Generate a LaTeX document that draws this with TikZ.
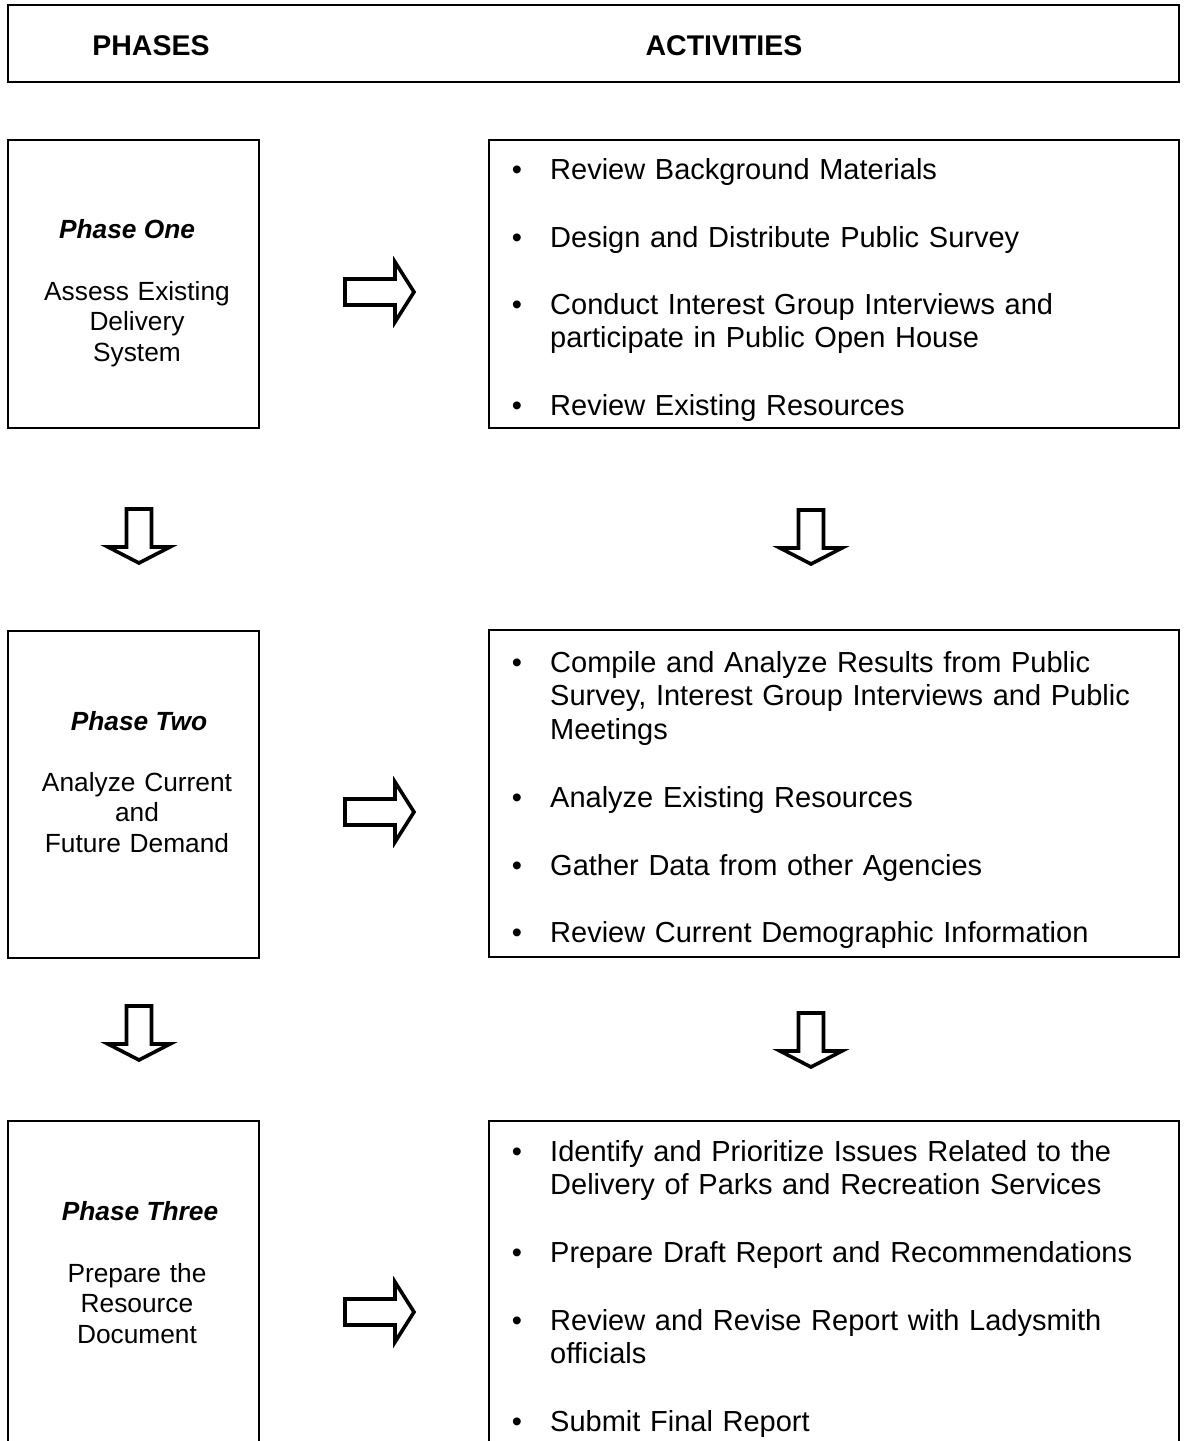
\documentclass[tikz,border=0pt]{standalone}
\usepackage{fontspec}
\setmainfont{Liberation Sans}
\begin{document}
\begin{tikzpicture}[x=1pt,y=-1pt,
  box/.style={draw=black, line width=2.6pt, rectangle, inner sep=0pt, outer sep=0pt},
  arrowline/.style={draw=black, fill=white, line width=3.6pt, line join=miter},
  rtext/.style={font=\fontsize{29}{33.5}\selectfont, inner sep=0pt, anchor=base west, text width=620pt, align=left},
  ltext/.style={font=\fontsize{26.3}{30.5}\selectfont, inner sep=0pt, anchor=base, text width=245pt, align=center},
  ptitle/.style={font=\fontsize{26.3}{30.5}\selectfont\bfseries\itshape, inner sep=0pt, anchor=base},
  htext/.style={font=\fontsize{28.5}{32}\selectfont\bfseries, inner sep=0pt, anchor=base},
  bul/.style={font=\fontsize{29}{33.5}\selectfont, inner sep=0pt, anchor=base},
  rarr/.pic={\draw[arrowline] (-35,-13) -- (15,-13) -- (15,-30) -- (34,0) -- (15,30) -- (15,13) -- (-35,13) -- cycle;},
  darr/.pic={\draw[arrowline] (-12.5,-27) -- (12.5,-27) -- (12.5,11) -- (31,11) -- (0,27) -- (-31,11) -- (-12.5,11) -- cycle;}
]
\useasboundingbox (0,0) rectangle (1185,1441);
\clip (0,0) rectangle (1185,1441);
\fill[white] (0,0) rectangle (1185,1441);

% header
\node[box, minimum width=1171pt, minimum height=77pt, anchor=north west] (hdr) at (8,5) {};
\node[htext] (hph) at (151,55) {PHASES};
\node[htext] (hac) at (724,55) {ACTIVITIES};

% boxes
\node[box, minimum width=251pt, minimum height=288pt, anchor=north west] (p1) at (8,140) {};
\node[box, minimum width=690pt, minimum height=288pt, anchor=north west] (a1) at (489,140) {};
\node[box, minimum width=251pt, minimum height=327pt, anchor=north west] (p2) at (8,631) {};
\node[box, minimum width=690pt, minimum height=327pt, anchor=north west] (a2) at (489,630) {};
\node[box, minimum width=251pt, minimum height=400pt, anchor=north west] (p3) at (8,1121) {};
\node[box, minimum width=690pt, minimum height=400pt, anchor=north west] (a3) at (489,1121) {};

% phase texts
\node[ptitle] (t1) at (127,238) {Phase One};
\node[ltext] (d1) at (137,300) {Assess Existing\\Delivery\\System};
\node[ptitle] (t2) at (139,730) {Phase Two};
\node[ltext] (d2) at (137,791) {Analyze Current\\and\\Future Demand};
\node[ptitle] (t3) at (140,1220) {Phase Three};
\node[ltext] (d3) at (137,1282) {Prepare the\\Resource\\Document};

% activities 1
\node[bul] (b11) at (517,179) {•};
\node[rtext] (i11) at (550,179) {Review Background Materials};
\node[bul] (b12) at (517,247) {•};
\node[rtext] (i12) at (550,247) {Design and Distribute Public Survey};
\node[bul] (b13) at (517,314) {•};
\node[rtext] (i13) at (550,314) {Conduct Interest Group Interviews and\\participate in Public Open House};
\node[bul] (b14) at (517,415) {•};
\node[rtext] (i14) at (550,415) {Review Existing Resources};

% activities 2
\node[bul] (b21) at (517,672) {•};
\node[rtext] (i21) at (550,672) {Compile and Analyze Results from Public\\Survey, Interest Group Interviews and Public\\Meetings};
\node[bul] (b22) at (517,807) {•};
\node[rtext] (i22) at (550,807) {Analyze Existing Resources};
\node[bul] (b23) at (517,875) {•};
\node[rtext] (i23) at (550,875) {Gather Data from other Agencies};
\node[bul] (b24) at (517,942) {•};
\node[rtext] (i24) at (550,942) {Review Current Demographic Information};

% activities 3
\node[bul] (b31) at (517,1161) {•};
\node[rtext] (i31) at (550,1161) {Identify and Prioritize Issues Related to the\\Delivery of Parks and Recreation Services};
\node[bul] (b32) at (517,1262) {•};
\node[rtext] (i32) at (550,1262) {Prepare Draft Report and Recommendations};
\node[bul] (b33) at (517,1330) {•};
\node[rtext] (i33) at (550,1330) {Review and Revise Report with Ladysmith\\officials};
\node[bul] (b34) at (517,1431) {•};
\node[rtext] (i34) at (550,1431) {Submit Final Report};

% block arrows
\pic (r1) at (380,292) {rarr};
\pic (r2) at (380,812) {rarr};
\pic (r3) at (380,1312) {rarr};
\pic (dl1) at (139,536) {darr};
\pic (dr1) at (811,537) {darr};
\pic (dl2) at (139,1033) {darr};
\pic (dr2) at (811,1040) {darr};
\end{tikzpicture}
\end{document}
